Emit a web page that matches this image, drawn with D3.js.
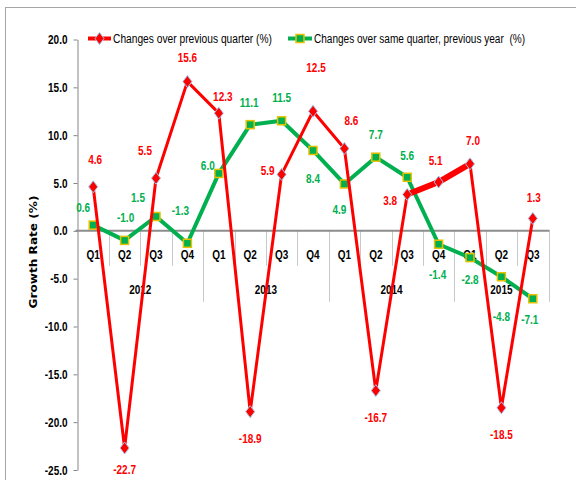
<!DOCTYPE html>
<html>
<head>
<meta charset="utf-8">
<script src="https://cdn.jsdelivr.net/npm/d3@7"></script>
<style>
  html, body { margin: 0; padding: 0; background: #fff; }
  svg { display: block; }
</style>
</head>
<body>
<svg id="chart" width="576" height="480"></svg>
<script>
// ---------------- data ----------------
const quarters = ["Q1","Q2","Q3","Q4","Q1","Q2","Q3","Q4","Q1","Q2","Q3","Q4","Q1","Q2","Q3"];
const years = ["2012","2013","2014","2015"];
const quartersPerYear = [4, 4, 4, 3];
const prevQuarter = [4.6, -22.7, 5.5, 15.6, 12.3, -18.9, 5.9, 12.5, 8.6, -16.7, 3.8, 5.1, 7.0, -18.5, 1.3];
const samePrevYear = [0.6, -1.0, 1.5, -1.3, 6.0, 11.1, 11.5, 8.4, 4.9, 7.7, 5.6, -1.4, -2.8, -4.8, -7.1];
const yTicks = [20, 15, 10, 5, 0, -5, -10, -15, -20, -25];
const seriesNames = ["Changes over previous quarter (%)", "Changes over same quarter, previous year  (%)"];

// ---------------- styling / layout (not data) ----------------
const RED = "#FF0000", GREEN = "#00B050";
const FONT = "'Liberation Sans',Arial,sans-serif";
const SX = 0.8; // horizontal condensing to mimic a narrow font
// label offsets from the marker (dx, dy) in px
const redLabelOffset = [[2,-27],[0,22],[-11,-28],[0,-24],[4,-17],[0,27],[-14,-4],[3,-44],[7,-28],[0,27],[-17,6],[-3,-21],[3,-23],[0,27],[1,-21]];
const greenLabelOffset = [[-10,-17],[1,-23],[-18,-19],[-7,-33],[-11,-8],[-1,-22],[0,-23],[0,28],[-5,26],[0,-23],[0,-22],[-1,30],[0,22],[0,40],[-3,21]];
const redThickRange = [10, 12];

// condense text horizontally around its anchor point
function condense(sel, sx) {
  sel.each(function () {
    const t = d3.select(this);
    const tx = +t.attr("x") || 0, ty = +t.attr("y") || 0;
    t.attr("x", 0).attr("y", 0).attr("transform", `translate(${tx},${ty}) scale(${sx},1)`);
  });
}

const svg = d3.select("#chart");

// frame
svg.append("rect").attr("x", 5.5).attr("y", 7.5).attr("width", 580).attr("height", 490)
  .attr("fill", "#fff").attr("stroke", "#a6a6a6").attr("stroke-width", 1);

const plotLeft = 77.5, plotRight = 548.5;
const x = d3.scaleBand().domain(d3.range(quarters.length)).range([plotLeft, plotRight]).paddingInner(0).paddingOuter(0);
const cx = i => x(i) + x.bandwidth() / 2;
const y = d3.scaleLinear().domain([-25, 20]).range([470, 39.5]);
const y0 = y(0);

// y axis
const yAxis = d3.axisLeft(y).tickValues(yTicks).tickSize(4).tickSizeOuter(0).tickPadding(6)
  .tickFormat(d => d.toFixed(1));
const gy = svg.append("g").attr("transform", `translate(${plotLeft},0)`).call(yAxis);
gy.select(".domain").attr("stroke", "#868686");
gy.selectAll(".tick line").attr("stroke", "#868686");
gy.selectAll(".tick text").attr("font-family", FONT).attr("font-weight", "bold")
  .attr("font-size", 12.5).attr("fill", "#000").call(condense, SX);

// y title
svg.append("text").attr("transform", "translate(37,252) rotate(-90)")
  .attr("text-anchor", "middle").attr("font-family", "'DejaVu Sans',sans-serif")
  .attr("font-weight", "bold").attr("font-size", 11).attr("fill", "#000")
  .attr("textLength", 113).attr("lengthAdjust", "spacingAndGlyphs")
  .text("Growth Rate (%)");

// x axis (category axis with grouped years)
const gx = svg.append("g");
const yearStarts = [];
quartersPerYear.reduce((acc, n) => { yearStarts.push(acc); return acc + n; }, 0);
const boundaries = d3.range(1, quarters.length);
gx.selectAll("line.qdiv").data(boundaries.filter(b => !yearStarts.includes(b)))
  .join("line").attr("class", "qdiv")
  .attr("x1", b => Math.round(x(b)) + 0.5).attr("x2", b => Math.round(x(b)) + 0.5)
  .attr("y1", y0).attr("y2", y0 + 35).attr("stroke", "#c8c8c8");
gx.selectAll("line.ydiv").data(yearStarts.filter(b => b > 0).concat([quarters.length]))
  .join("line").attr("class", "ydiv")
  .attr("x1", b => Math.round(b === quarters.length ? plotRight : x(b)) + 0.5)
  .attr("x2", b => Math.round(b === quarters.length ? plotRight : x(b)) + 0.5)
  .attr("y1", y0).attr("y2", y0 + 71).attr("stroke", "#c8c8c8");
gx.append("line").attr("x1", plotLeft - 2).attr("x2", plotRight + 1)
  .attr("y1", y0).attr("y2", y0).attr("stroke", "#8c8c8c").attr("stroke-width", 2);
gx.selectAll("text.q").data(quarters).join("text").attr("class", "q")
  .attr("x", (d, i) => cx(i)).attr("y", y0 + 28.5).attr("text-anchor", "middle")
  .attr("font-family", FONT).attr("font-weight", "bold").attr("font-size", 12.5)
  .attr("fill", "#000").text(d => d).call(condense, SX);
gx.selectAll("text.yr").data(years).join("text").attr("class", "yr")
  .attr("x", (d, k) => {
    const s = yearStarts[k], e = s + quartersPerYear[k];
    return (x(s) + (e === quarters.length ? plotRight : x(e))) / 2;
  })
  .attr("y", y0 + 63.5).attr("text-anchor", "middle")
  .attr("font-family", FONT).attr("font-weight", "bold").attr("font-size", 12.5)
  .attr("fill", "#000").text(d => d).call(condense, SX);

// lines
const line = d3.line().x(d => cx(d[0])).y(d => y(d[1]));
const greenPts = samePrevYear.map((v, i) => [i, v]);
const redPts = prevQuarter.map((v, i) => [i, v]);

svg.append("path").attr("d", line(greenPts)).attr("fill", "none")
  .attr("stroke", GREEN).attr("stroke-width", 4).attr("stroke-linejoin", "round");
svg.selectAll("rect.gm").data(greenPts).join("rect").attr("class", "gm")
  .attr("x", d => cx(d[0]) - 4).attr("y", d => y(d[1]) - 4)
  .attr("width", 8).attr("height", 8)
  .attr("fill", GREEN).attr("stroke", "#E5C100").attr("stroke-width", 1.5);

svg.append("path").attr("d", line(redPts)).attr("fill", "none")
  .attr("stroke", RED).attr("stroke-width", 3).attr("stroke-linejoin", "round");
svg.append("path").attr("d", line(redPts.slice(redThickRange[0], redThickRange[1] + 1)))
  .attr("fill", "none").attr("stroke", RED).attr("stroke-width", 6).attr("stroke-linejoin", "round");
const diamond = "M0,-6L4.5,0L0,6L-4.5,0Z";
svg.selectAll("path.rm").data(redPts).join("path").attr("class", "rm")
  .attr("transform", d => `translate(${cx(d[0])},${y(d[1])})`)
  .attr("d", diamond).attr("fill", RED).attr("stroke", "#9DC3E6").attr("stroke-width", 1);

// data labels
svg.selectAll("text.gl").data(greenPts).join("text").attr("class", "gl")
  .attr("x", d => cx(d[0]) + greenLabelOffset[d[0]][0])
  .attr("y", d => y(d[1]) + greenLabelOffset[d[0]][1]).attr("dy", "0.35em")
  .attr("text-anchor", "middle").attr("font-family", FONT).attr("font-weight", "bold")
  .attr("font-size", 12.5).attr("fill", GREEN).text(d => d[1].toFixed(1)).call(condense, SX);
svg.selectAll("text.rl").data(redPts).join("text").attr("class", "rl")
  .attr("x", d => cx(d[0]) + redLabelOffset[d[0]][0])
  .attr("y", d => y(d[1]) + redLabelOffset[d[0]][1]).attr("dy", "0.35em")
  .attr("text-anchor", "middle").attr("font-family", FONT).attr("font-weight", "bold")
  .attr("font-size", 12.5).attr("fill", RED).text(d => d[1].toFixed(1)).call(condense, SX);

// legend
const lg = svg.append("g");
const legY = 38.5;
lg.append("line").attr("x1", 88).attr("x2", 111).attr("y1", legY).attr("y2", legY)
  .attr("stroke", RED).attr("stroke-width", 4);
lg.append("path").attr("transform", `translate(99.5,${legY})`).attr("d", diamond)
  .attr("fill", RED).attr("stroke", "#9DC3E6").attr("stroke-width", 1);
lg.append("text").attr("x", 113).attr("y", legY + 4.5).attr("font-family", FONT)
  .attr("font-size", 12.5).attr("fill", "#000")
  .attr("textLength", 159).attr("lengthAdjust", "spacingAndGlyphs").text(seriesNames[0]);
lg.append("line").attr("x1", 288).attr("x2", 312).attr("y1", legY).attr("y2", legY)
  .attr("stroke", GREEN).attr("stroke-width", 4);
lg.append("rect").attr("x", 296).attr("y", legY - 4).attr("width", 8).attr("height", 8)
  .attr("fill", GREEN).attr("stroke", "#E5C100").attr("stroke-width", 1.5);
lg.append("text").attr("x", 314).attr("y", legY + 4.5).attr("font-family", FONT)
  .attr("font-size", 12.5).attr("fill", "#000").style("white-space", "pre")
  .attr("textLength", 211).attr("lengthAdjust", "spacingAndGlyphs").text(seriesNames[1]);
</script>
</body>
</html>
